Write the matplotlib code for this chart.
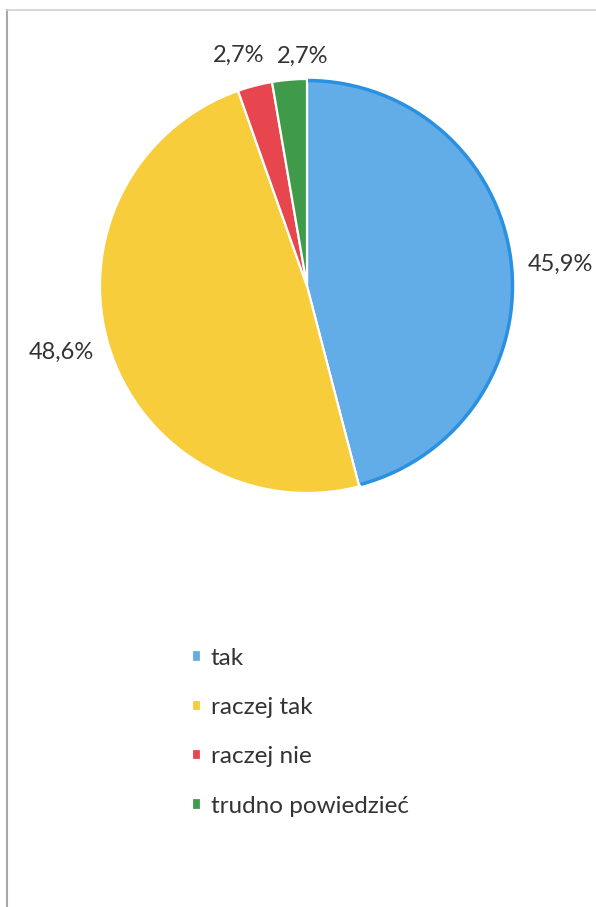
## Pie chart of survey answers (tak / raczej tak / raczej nie / trudno powiedziec)

import numpy as np
import matplotlib
matplotlib.use('Agg')
import matplotlib.pyplot as plt
from matplotlib.lines import Line2D

## Data
categories = ['tak', 'raczej tak', 'raczej nie', 'trudno powiedzieć']
shares = [45.9, 48.6, 2.7, 2.7]
colors = ['#62ace7', '#f7cd3b', '#e8464e', '#3f9b49']

## Label placement tweaks (radius factor, turn in degrees from wedge middle)
label_r = [1.23, 1.23, 1.16, 1.11]
label_turn = [-2.4, -2.0, 1.9, -3.7]

plt.rcParams['font.family'] = ['Lato', 'DejaVu Sans']
W, H = 596, 907
fig = plt.figure(figsize=(W/100, H/100), dpi=100)
ax = fig.add_axes([0, 0, 1, 1])

cx, cy, rad = 307, H - 286, 207
wedges, _ = ax.pie(shares, colors=colors, startangle=90, counterclock=False,
                   center=(cx, cy), radius=rad,
                   wedgeprops=dict(edgecolor='white', linewidth=1.6))

## darker blue rim on the first slice, like the printed texture
w0 = wedges[0]
arc = matplotlib.patches.Arc((cx, cy), 2*rad - 3, 2*rad - 3, theta1=w0.theta1 + 0.6,
                             theta2=w0.theta2 - 0.3, color='#2a90e0', lw=2.5)
ax.add_patch(arc)

for i, w in enumerate(wedges):
    mid = np.deg2rad((w.theta1 + w.theta2) / 2 + label_turn[i])
    x = cx + label_r[i] * rad * np.cos(mid)
    y = cy + label_r[i] * rad * np.sin(mid)
    ax.text(x, y, '{:.1f}%'.format(shares[i]).replace('.', ','),
            ha='center', va='center', fontsize=17, color='#333333')

ax.set_xlim(0, W)
ax.set_ylim(0, H)
ax.set_aspect('auto')
ax.axis('off')

fig.legend(wedges, categories, loc='upper left', bbox_to_anchor=(192/W, 1 - 648/H),
           frameon=False, fontsize=17.5, handlelength=0.36, handleheight=0.36,
           handletextpad=0.42, labelspacing=1.16, borderpad=0, borderaxespad=0,
           labelcolor='#333333')

## faint frame lines of the scanned page
fig.add_artist(Line2D([7/W, 7/W], [0, 1 - 10/H], color='#a8a8a8', lw=1.5))
fig.add_artist(Line2D([7/W, 1], [1 - 10/H, 1 - 10/H], color='#d0d0d0', lw=1.2))

fig.savefig('out.png', dpi=100)
